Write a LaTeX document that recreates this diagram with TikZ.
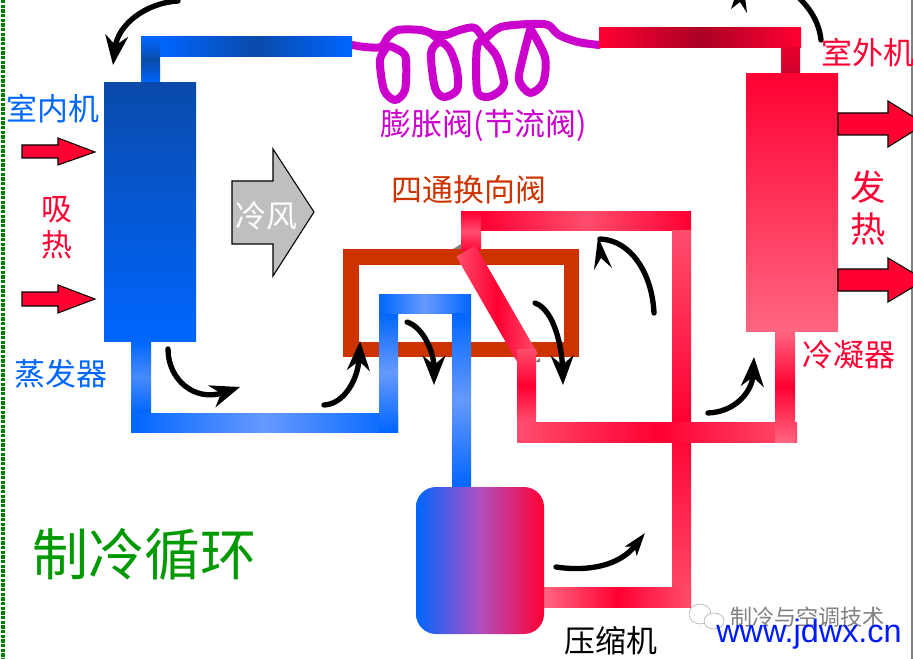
\documentclass[tikz,border=0pt]{standalone}
\usepackage{fontspec}
\usetikzlibrary{arrows.meta, positioning}
\newfontfamily\cjk{Noto Sans CJK SC}
\setsansfont{Liberation Sans}
\definecolor{coldblue}{HTML}{0066FF}
\definecolor{paleblue}{HTML}{6699FF}
\definecolor{darkblue}{HTML}{0A4AAA}
\definecolor{hotred}{HTML}{FF0033}
\definecolor{palered}{HTML}{FF4D6D}
\definecolor{pinkred}{HTML}{FF6680}
\definecolor{darkred}{HTML}{AA0022}
\definecolor{valvebrown}{HTML}{CC3300}
\definecolor{coilmagenta}{HTML}{CC00CC}
\definecolor{mixviolet}{HTML}{B04FC0}
\tikzset{
  hblue/.style={left color=coldblue, right color=coldblue, middle color=paleblue},
  vblue/.style={top color=coldblue, bottom color=coldblue, middle color=paleblue},
  hred/.style={left color=hotred, right color=hotred, middle color=palered},
  vred/.style={top color=palered, bottom color=palered, middle color=hotred},
  coil/.style={draw=coilmagenta, line width=6pt, line cap=round, line join=round},
  flowline/.style={draw=black, line width=4pt, line cap=round},
  flow/.style={flowline, -{Stealth[length=22pt, width=17pt, inset=7pt]}},
  heat/.style={draw=black, fill=hotred, line width=0.8pt},
  lbl/.style={inner sep=0pt, font=\cjk\fontsize{23.2}{25}\selectfont}
}
\begin{document}
\begin{tikzpicture}[x=0.75pt, y=-0.75pt]
  \useasboundingbox (0,0) rectangle (913,659);
  \clip (0,0) rectangle (913,659);
  % Page edges
  \draw[green!50!black, line width=3pt, dash pattern=on 2.5pt off 1pt] (3,0) -- (3,659);
  \draw[gray, line width=1.5pt] (912,0) -- (912,659);

  % Expansion valve coil
  \draw[coil] plot[smooth] coordinates {(352,45) (365,47) (381,47) (388,37) (398,30) (420,30) (432,34) (440,42)};
  \draw[coil] plot[smooth] coordinates {(388,46) (380,60) (384,90) (395,100) (405,90) (406,60) (402,52) (390,46)};
  \draw[coil] plot[smooth] coordinates {(432,34) (446,35) (460,30) (475,28) (486,43) (497,57) (504,83) (497,93) (486,97) (477,90) (477,47) (486,38) (501,27) (530,24) (548,25) (559,35) (578,42) (599,45)};
  \draw[coil] plot[smooth cycle] coordinates {(440,42) (431,53) (435,88) (444,97) (457,90) (457,70) (450,50)};
  \draw[coil] plot[smooth] coordinates {(530,28) (545,57) (543,83) (530,93) (519,80) (523,57) (530,30)};

  % Indoor side pipes
  \shade[left color=coldblue, right color=coldblue, middle color=darkblue] (160,37) rectangle (352,57);
  \shade[top color=coldblue, bottom color=coldblue, middle color=darkblue] (141,37) rectangle (160,83);
  \node[minimum width=69pt, minimum height=193.5pt, inner sep=0pt, top color=darkblue, bottom color=coldblue] (evaporator) at (150,212) {};
  \shade[top color=coldblue, bottom color=coldblue, middle color=paleblue!70!coldblue] (131,341) rectangle (151,413);
  \shade[hblue] (131,413) rectangle (398,432);

  % Four-way valve body
  \draw[valvebrown, line width=11.6pt] (351,257) rectangle (571.5,349.5);

  % Valve inlet and outlet pipes
  \shade[vblue] (379,313) rectangle (398,432);
  \shade[hblue] (379,294) rectangle (471,313);
  \shade[vblue] (452,313) rectangle (471,487);
  \shade[top color=hotred, bottom color=hotred, middle color=palered] (461,212) rectangle (481,251);
  \shade[hred] (481,212) rectangle (691,231);
  \fill[gray] (453,249) -- (461,244) -- (461,249) -- cycle;
  \fill[gray] (535,362) -- (540,358) -- (540,362) -- cycle;
  \node[rotate=-60, minimum width=93.5pt, minimum height=16.5pt, inner sep=0pt, left color=palered, right color=palered, middle color=hotred] (slider) at (497,305) {};

  % Outdoor side pipes
  \shade[top color=palered, bottom color=hotred] (672,231) rectangle (691,422);
  \shade[top color=hotred!90!palered, bottom color=palered] (672,442) rectangle (691,607);
  \shade[vred] (517,349) rectangle (536,422);
  \shade[left color=palered, right color=palered, middle color=hotred] (517,422) rectangle (797,442);
  \shade[top color=pinkred, bottom color=pinkred, middle color=hotred] (775,331) rectangle (795,442);
  \shade[left color=pinkred, right color=palered, middle color=hotred] (544,587) rectangle (691,607);
  \shade[left color=hotred, right color=hotred, middle color=darkred] (599,28) rectangle (801,48);
  \shade[top color=hotred!90!black, bottom color=hotred!80!black] (781,48) rectangle (800,74);
  \node[minimum width=69pt, minimum height=192.75pt, inner sep=0pt, top color=hotred, bottom color=pinkred] (condenser) at (792,202.5) {};

  % Compressor
  \node[minimum width=96pt, minimum height=110.25pt, inner sep=0pt, rounded corners=15pt, left color=coldblue, right color=hotred, middle color=mixviolet] (compressor) at (480,560.5) {};

  % Heat and air arrows
  \draw[heat] (22,145) -- (58,145) -- (58,138) -- (95,152) -- (58,165) -- (58,158) -- (22,158) -- cycle;
  \draw[heat] (22,292) -- (58,292) -- (58,285) -- (95,299) -- (58,313) -- (58,306) -- (22,306) -- cycle;
  \draw[heat] (838,113) -- (888,113) -- (888,101) -- (925,124) -- (888,147) -- (888,135) -- (838,135) -- cycle;
  \draw[heat] (838,269) -- (888,269) -- (888,258) -- (925,280) -- (888,302) -- (888,291) -- (838,291) -- cycle;
  \draw[black, fill=black!25, line width=0.8pt] (232,181) -- (273,181) -- (273,149) -- (314,212) -- (273,276) -- (273,244) -- (232,244) -- cycle;

  % Flow arrows
  \draw[flow] (178,1) .. controls (145,3) and (118,25) .. (113,65);
  \draw[flowline] (821,40) .. controls (819,22) and (810,8) .. (797,-4);
  \fill (731,9) -- (740,2) -- (747,13) -- (745,-3) -- (735,-3) -- cycle;
  \draw[flow] (168,349) .. controls (168,380) and (195,402) .. (240,387);
  \draw[flow] (324,405) .. controls (345,404) and (358,378) .. (360,341);
  \draw[flow] (407,322) .. controls (425,328) and (434,355) .. (434,385);
  \draw[flow] (535,303) .. controls (555,310) and (562,350) .. (563,385);
  \draw[flowline] (654,313) .. controls (652,272) and (630,240) .. (600,239);
  \fill (598,237) -- (612,268) -- (601,258) -- (594,270) -- cycle;
  \draw[flow] (708,413) .. controls (735,412) and (752,392) .. (754,357);
  \draw[flow, -{Stealth[length=17pt, width=11pt, inset=4pt]}] (556,567) .. controls (590,572) and (620,565) .. (645,533);

  % Labels
  \node[lbl, text=coldblue] (indoor) at (53,109) {室内机};
  \node[lbl, text=hotred] (absorb1) at (57,210) {吸};
  \node[lbl, text=hotred] (absorb2) at (57,245) {热};
  \node[lbl, text=coldblue] (evaplabel) at (61,374) {蒸发器};
  \node[lbl, text=white] (coldair) at (266,216) {冷风};
  \node[lbl, text=coilmagenta] (expansion) at (484,126) {膨胀阀(节流阀)};
  \node[lbl, text=valvebrown] (fourway) at (469,190) {四通换向阀};
  \node[lbl, text=hotred] (outdoor) at (868,53) {室外机};
  \node[lbl, text=hotred, font=\cjk\fontsize{26.5}{28}\selectfont] (release1) at (868,187) {发};
  \node[lbl, text=hotred, font=\cjk\fontsize{26.5}{28}\selectfont] (release2) at (868,229) {热};
  \node[lbl, text=hotred] (condlabel) at (849,355) {冷凝器};
  \node[lbl, text=green!60!black, font=\cjk\fontsize{42}{44}\selectfont] (cycle) at (144,554) {制冷循环};
  \node[lbl, text=black] (complabel) at (611,641) {压缩机};

  % Watermark
  \draw[gray!70, fill=white, line width=0.4pt] (700,614) ellipse (11 and 10);
  \draw[gray!70, fill=white, line width=0.4pt] (714,621) ellipse (10 and 8);
  \node[lbl, text=gray, font=\cjk\fontsize{16.5}{18}\selectfont] (mark) at (807,617) {制冷与空调技术};
  \node[inner sep=0pt, text=blue!90!cyan, font=\sffamily\fontsize{24.3}{26}\selectfont] (site) at (809,634) {www.jdwx.cn};
\end{tikzpicture}
\end{document}
